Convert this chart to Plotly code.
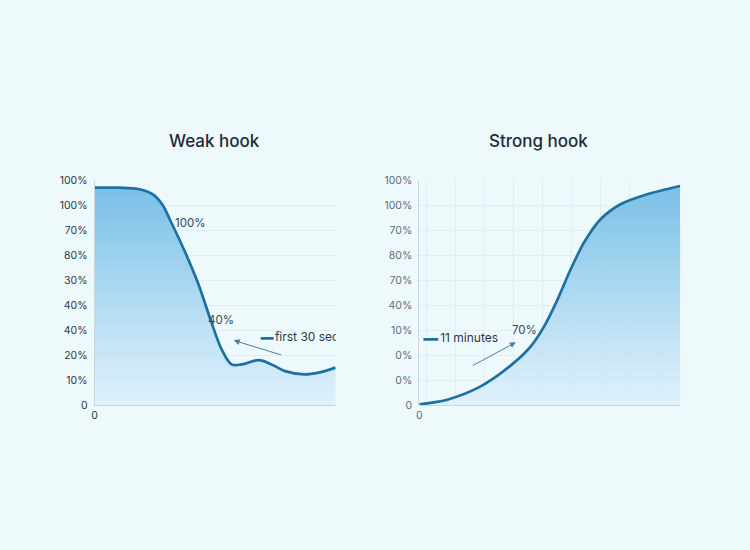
import plotly.graph_objects as go

# ---- data ----
weak_x = [0, 1, 1.8, 2.4, 2.8, 3.15, 3.7, 4.28, 4.85, 5.27, 5.68, 6.1, 6.8, 7.34, 7.9, 8.7, 9.3, 10]
weak_y = [8.7, 8.7, 8.65, 8.44, 8.04, 7.37, 6.24, 4.91, 3.31, 2.24, 1.64, 1.64, 1.81, 1.64, 1.37, 1.24, 1.31, 1.51]

strong_x = [0, 0.99, 2.13, 3.27, 3.85, 4.31, 4.77, 5.22, 5.68, 6.25, 6.94, 7.86, 9]
strong_y = [0.04, 0.24, 0.77, 1.71, 2.37, 3.17, 4.24, 5.44, 6.51, 7.44, 8.04, 8.44, 8.77]

weak_ticktext = ["0", "10%", "20%", "40%", "40%", "30%", "80%", "70%", "100%", "100%"]
strong_ticktext = ["0", "0%", "0%", "10%", "40%", "70%", "80%", "70%", "100%", "100%"]
tick_vals = list(range(10))

weak_title = "Weak hook"
strong_title = "Strong hook"
weak_legend = "first 30 secs"
strong_legend = "11 minutes"

BG = "#eef9fc"
LINE = "#1c71a2"
GRAD = [[0, "rgba(222,240,251,0.9)"], [1, "rgba(116,189,230,0.95)"]]
FONT = "Inter, Noto Sans, sans-serif"

fig = go.Figure()

fig.add_trace(go.Scatter(
    x=weak_x, y=weak_y, mode="lines", line=dict(color=LINE, width=2.7, shape="spline", smoothing=1.0),
    fill="tozeroy", fillgradient=dict(type="vertical", colorscale=GRAD),
    xaxis="x", yaxis="y", showlegend=False, hoverinfo="skip"))
fig.add_trace(go.Scatter(
    x=strong_x, y=strong_y, mode="lines", line=dict(color=LINE, width=2.7, shape="spline", smoothing=0.8),
    fill="tozeroy", fillgradient=dict(type="vertical", colorscale=GRAD),
    xaxis="x2", yaxis="y2", showlegend=False, hoverinfo="skip"))

# legend-like markers inside plots
fig.add_trace(go.Scatter(x=[6.89, 7.43], y=[2.68, 2.68], mode="lines", line=dict(color=LINE, width=2.6),
                         xaxis="x", yaxis="y", showlegend=False, hoverinfo="skip"))
fig.add_trace(go.Scatter(x=[7.48], y=[2.68], mode="text", text=[weak_legend], textposition="middle right",
                         textfont=dict(size=12, color="#1f3a50", family=FONT), cliponaxis=True,
                         xaxis="x", yaxis="y", showlegend=False, hoverinfo="skip"))
fig.add_trace(go.Scatter(x=[0.14, 0.65], y=[2.64, 2.64], mode="lines", line=dict(color=LINE, width=2.6),
                         xaxis="x2", yaxis="y2", showlegend=False, hoverinfo="skip"))
fig.add_trace(go.Scatter(x=[0.72], y=[2.64], mode="text", text=[strong_legend], textposition="middle right",
                         textfont=dict(size=12, color="#1f3a50", family=FONT), cliponaxis=True,
                         xaxis="x2", yaxis="y2", showlegend=False, hoverinfo="skip"))

Y_DOMAIN = [1 - 409.1/550, 1 - 177.9/550]
yax_common = dict(range=[0, 9.02], tickvals=tick_vals, showgrid=True, gridcolor="#e2eef4", gridwidth=1,
                  zeroline=False, showline=True, linecolor="#c9d6de", linewidth=1, ticks="",
                  fixedrange=True, ticklabelstandoff=4, domain=Y_DOMAIN)
fig.update_layout(
    width=750, height=550, paper_bgcolor=BG, plot_bgcolor=BG,
    margin=dict(l=0, r=0, t=0, b=0), showlegend=False,
    font=dict(family=FONT),
    xaxis=dict(domain=[92/750, 334/750], range=[0, 10], tickvals=[0], ticktext=["0"], showgrid=False,
               zeroline=False, showline=True, linecolor="#c9d6de", ticks="",
               tickfont=dict(size=10.5, color="#2d3a47"), anchor="y"),
    yaxis=dict(ticktext=weak_ticktext, tickfont=dict(size=10.5, color="#2d3a47"),
               anchor="x", **yax_common),
    xaxis2=dict(domain=[418/750, 680/750], range=[0, 9],
                tickvals=[0] + [k + 0.25 for k in range(9)], ticktext=["0"] + [""] * 9,
                showgrid=True, gridcolor="#e2eef4", zeroline=False, showline=True, linecolor="#c9d6de",
                ticks="", tickfont=dict(size=10.5, color="#5f6c78"), anchor="y2"),
    yaxis2=dict(ticktext=strong_ticktext, tickfont=dict(size=10.5, color="#5f6c78"),
                anchor="x2", **yax_common),
)

ann_font = dict(size=11.5, color="#2d4a5f", family=FONT)
title_font = dict(size=17, color="#1d2b3a", family=FONT, weight=500)
fig.add_annotation(text=weak_title, xref="paper", yref="paper", x=212/750, y=1-137.9/550, showarrow=False,
                   font=title_font, xanchor="center", yanchor="middle")
fig.add_annotation(text=strong_title, xref="paper", yref="paper", x=538/750, y=1-137.9/550, showarrow=False,
                   font=title_font, xanchor="center", yanchor="middle")
fig.add_annotation(text="100%", xref="x", yref="y", x=3.25, y=7.3, showarrow=False, xanchor="left",
                   font=ann_font)
fig.add_annotation(text="40%", xref="x", yref="y", x=4.62, y=3.42, showarrow=False, xanchor="left",
                   font=ann_font)
fig.add_annotation(text="70%", xref="x2", yref="y2", x=3.14, y=3.02, showarrow=False, xanchor="left",
                   font=ann_font)
fig.add_annotation(text="", xref="x", yref="y", x=5.77, y=2.6, axref="x", ayref="y", ax=7.8, ay=2.0,
                   showarrow=True, arrowhead=2, arrowsize=1.2, arrowwidth=1, arrowcolor="#4f7f9f")
fig.add_annotation(text="", xref="x2", yref="y2", x=3.33, y=2.52, axref="x2", ayref="y2", ax=1.79, ay=1.56,
                   showarrow=True, arrowhead=2, arrowsize=1.2, arrowwidth=1, arrowcolor="#4f7f9f")

fig.write_html(
    "out.html",
    config={"displayModeBar": False, "staticPlot": True},
    post_script=("document.documentElement.style.margin='0';document.documentElement.style.padding='0';"
                 "document.documentElement.style.overflow='hidden';"
                 "document.body.style.margin='0';document.body.style.padding='0';"
                 "document.body.style.overflow='hidden';document.body.style.background='#eef9fc';"),
)
